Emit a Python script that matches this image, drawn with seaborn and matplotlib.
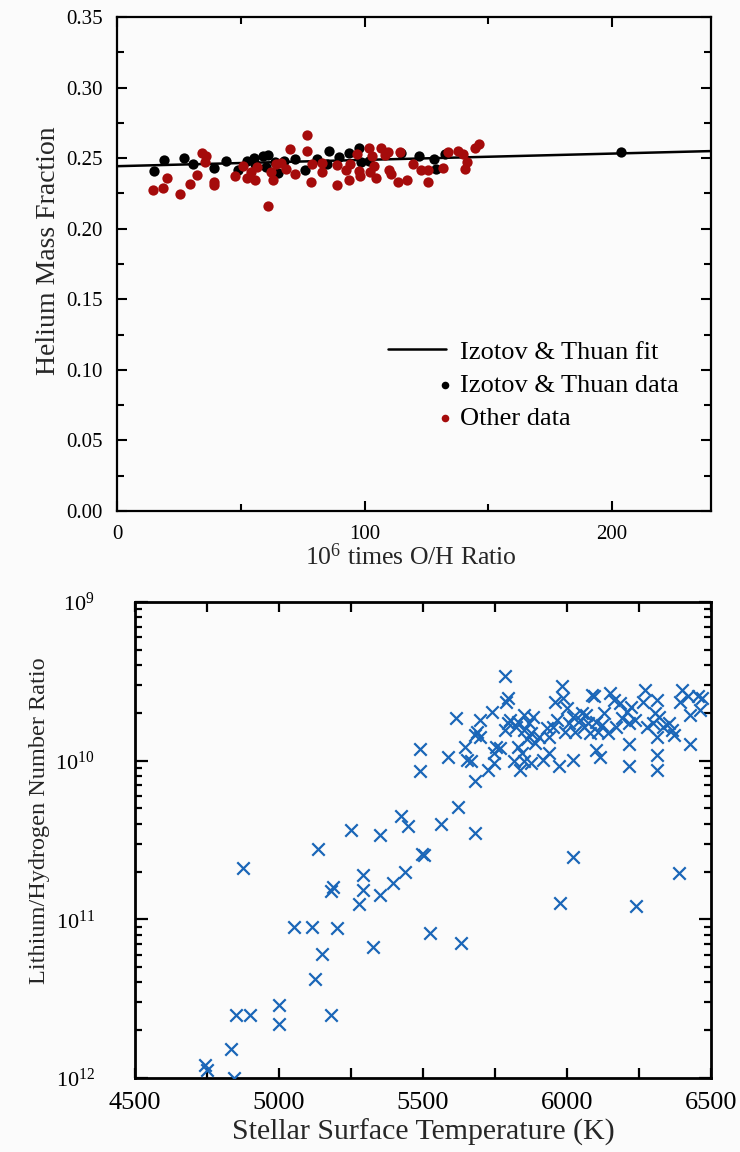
import numpy as np
import pandas as pd
import matplotlib
matplotlib.use("Agg")
import matplotlib.pyplot as plt
import seaborn as sns
from matplotlib.ticker import MultipleLocator, FormatStrFormatter, LogLocator, FixedLocator, NullFormatter
from matplotlib.legend_handler import HandlerPathCollection

# ---------------- data: helium (top panel) ----------------
it_oh = [15.0, 19.1, 26.9, 30.8, 39.1, 43.9, 48.8, 52.4, 55.3, 58.9, 61.0, 63.7, 65.0, 67.3,
         71.9, 75.9, 80.8, 85.7, 84.9, 89.7, 93.8, 97.8, 98.6, 101.9, 114.9, 121.9, 127.9,
         128.7, 132.7, 203.7, 55.6, 60.2]
it_y = [0.2408, 0.2488, 0.2502, 0.2460, 0.2432, 0.2479, 0.2413, 0.2479, 0.2502, 0.2512,
        0.2519, 0.2472, 0.2394, 0.2479, 0.2495, 0.2417, 0.2495, 0.2550, 0.2460, 0.2507,
        0.2535, 0.2573, 0.2472, 0.2483, 0.2535, 0.2512, 0.2495, 0.2425, 0.2526, 0.2542,
        0.2460, 0.2436]

other_oh = [14.5, 18.6, 20.2, 25.3, 29.3, 32.4, 34.2, 35.8, 35.5, 39.1, 39.1, 47.5, 51.1,
            52.7, 54.3, 55.9, 56.4, 61.0, 62.1, 62.9, 64.1, 66.2, 68.1, 69.9, 71.9, 76.7,
            76.7, 78.3, 78.7, 82.9, 82.9, 88.9, 88.9, 92.6, 93.8, 94.3, 97.0, 97.8, 98.2,
            101.9, 102.4, 103.0, 104.0, 104.6, 106.8, 108.4, 109.5, 110.0, 110.8, 113.7,
            114.4, 117.0, 119.7, 123.0, 125.5, 125.8, 131.6, 133.9, 137.6, 139.7, 140.8,
            141.3, 144.6, 146.2]
other_y = [0.2276, 0.2290, 0.2361, 0.2243, 0.2314, 0.2384, 0.2535, 0.2512, 0.2472, 0.2330,
           0.2307, 0.2377, 0.2441, 0.2361, 0.2401, 0.2342, 0.2436, 0.2158, 0.2401, 0.2342,
           0.2460, 0.2465, 0.2425, 0.2566, 0.2389, 0.2667, 0.2554, 0.2330, 0.2455, 0.2465,
           0.2401, 0.2448, 0.2307, 0.2417, 0.2342, 0.2455, 0.2526, 0.2408, 0.2370, 0.2573,
           0.2401, 0.2512, 0.2441, 0.2361, 0.2573, 0.2519, 0.2542, 0.2417, 0.2389, 0.2330,
           0.2542, 0.2347, 0.2460, 0.2413, 0.2330, 0.2413, 0.2432, 0.2542, 0.2550, 0.2526,
           0.2425, 0.2472, 0.2573, 0.2597]

fit_intercept = 0.2443
fit_slope = 0.0000446
oh_limits = [0, 240]
he_limits = [0.0, 0.35]

# ---------------- data: lithium (bottom panel) ----------------
temps = [5784, 5983, 5796, 5789, 5614, 5739, 5697, 5689, 5680, 5697, 5784, 5803, 5831, 5852,
         5867, 5881, 5852, 5874, 5930, 5937, 5959, 5987, 5966, 6001, 6022, 6044, 6058, 6065,
         6086, 6093, 6100, 6107, 6129, 6150, 6164, 6171, 6185, 6207, 6214, 6221, 6214, 6214,
         6270, 6263, 6278, 6306, 6313, 6320, 6313, 6313, 6313, 6334, 6363, 6370, 6391, 6398,
         6419, 6426, 6426, 6455, 6462, 6469,
         6022, 5973, 6115, 6100, 5838, 5845, 5852, 5874, 5916, 5937, 5831, 5817, 5725, 5746,
         5753, 5767, 5746, 5680, 5654, 5647, 5668, 5586, 5491, 5491, 5621, 5682, 5562, 5422,
         5448, 5349, 5250, 5137, 5498, 5505, 6022, 4875, 5293, 5439, 6388,
         6008, 6029, 6051, 6072, 6079, 6122, 6143, 5994, 5952, 5902, 5888, 6192, 6235, 6299,
         6355, 5824, 5860, 5796,
         5976, 6238, 5189, 5179, 5293, 5396, 5349, 5278, 5524, 5633, 5052, 5115, 5203, 5325,
         5148, 5125, 4999, 4999, 4850, 4900, 5182, 4835, 4744, 4750, 4843]
li_ratio = [3.4e-10, 2.97e-10, 2.5e-10, 2.35e-10, 1.85e-10, 2.04e-10, 1.8e-10, 1.52e-10,
            1.45e-10, 1.42e-10, 1.56e-10, 1.8e-10, 1.76e-10, 1.94e-10, 1.72e-10, 1.89e-10,
            1.56e-10, 1.49e-10, 1.6e-10, 1.42e-10, 2.35e-10, 2.47e-10, 1.8e-10, 2.14e-10,
            1.89e-10, 1.8e-10, 1.64e-10, 1.94e-10, 2.6e-10, 2.54e-10, 1.76e-10, 1.52e-10,
            1.99e-10, 2.66e-10, 2.41e-10, 1.64e-10, 2.3e-10, 2.04e-10, 1.72e-10, 2.19e-10,
            1.27e-10, 9.2e-11, 2.79e-10, 2.35e-10, 1.64e-10, 1.99e-10, 2.41e-10, 1.89e-10,
            1.42e-10, 1.09e-10, 8.7e-11, 1.64e-10, 1.56e-10, 1.45e-10, 2.35e-10, 2.79e-10,
            2.54e-10, 1.94e-10, 1.27e-10, 2.54e-10, 2.09e-10, 2.5e-10,
            1.01e-10, 9.2e-11, 1.06e-10, 1.16e-10, 8.7e-11, 1.11e-10, 9.9e-11, 9.6e-11,
            1.01e-10, 1.11e-10, 1.22e-10, 9.9e-11, 8.7e-11, 9.6e-11, 1.22e-10, 1.2e-10,
            1.11e-10, 7.4e-11, 1.01e-10, 1.22e-10, 9.9e-11, 1.06e-10, 1.18e-10, 8.65e-11,
            5.1e-11, 3.5e-11, 4.0e-11, 4.5e-11, 3.9e-11, 3.4e-11, 3.66e-11, 2.78e-11,
            2.58e-11, 2.55e-11, 2.48e-11, 2.1e-11, 1.9e-11, 2.0e-11, 1.95e-11,
            1.72e-10, 1.52e-10, 1.99e-10, 1.72e-10, 1.49e-10, 1.68e-10, 1.49e-10, 1.52e-10,
            1.64e-10, 1.42e-10, 1.3e-10, 1.85e-10, 1.8e-10, 1.72e-10, 1.72e-10, 1.64e-10,
            1.37e-10, 1.72e-10,
            1.27e-11, 1.21e-11, 1.6e-11, 1.5e-11, 1.53e-11, 1.7e-11, 1.43e-11, 1.25e-11,
            8.2e-12, 7.1e-12, 9.0e-12, 9.0e-12, 8.8e-12, 6.7e-12, 6.05e-12, 4.2e-12,
            2.9e-12, 2.2e-12, 2.5e-12, 2.5e-12, 2.5e-12, 1.52e-12, 1.21e-12, 1.12e-12, 1.0e-12]
temp_limits = [4500, 6500]
li_limits = [1e-12, 1e-9]
li_tick_values = [1e-12, 1e-11, 1e-10, 1e-9]
li_tick_labels = [r"$\mathregular{10^{12}}$", r"$\mathregular{10^{11}}$",
                  r"$\mathregular{10^{10}}$", r"$\mathregular{10^{9}}$"]

# ---------------- style ----------------
sns.set_theme(style="ticks")
BG = "#fbfbfb"
plt.rcParams["font.family"] = ["Liberation Serif", "DejaVu Serif"]
plt.rcParams["mathtext.fontset"] = "custom"
plt.rcParams["mathtext.rm"] = "Liberation Serif"
plt.rcParams["axes.edgecolor"] = "black"
plt.rcParams["text.color"] = "black"
plt.rcParams["xtick.color"] = "black"
plt.rcParams["ytick.color"] = "black"

fig = plt.figure(figsize=(7.4, 11.52), dpi=100, facecolor=BG)
ax1 = fig.add_axes([117 / 740, 1 - 511 / 1152, 594 / 740, 494 / 1152])
ax2 = fig.add_axes([135 / 740, 1 - 1078 / 1152, 576 / 740, 476 / 1152])
for ax in (ax1, ax2):
    ax.set_facecolor(BG)

RED = "#a50b0b"
BLUE = "#1a66b8"

# ---------------- top panel ----------------
fit_df = pd.DataFrame({"oh": oh_limits})
fit_df["y"] = fit_intercept + fit_slope * fit_df["oh"]
sns.lineplot(data=fit_df, x="oh", y="y", ax=ax1, color="black", linewidth=1.8,
             legend=False, zorder=2)
h_line = ax1.lines[-1]
it_df = pd.DataFrame({"oh": it_oh, "y": it_y})
other_df = pd.DataFrame({"oh": other_oh, "y": other_y})
sns.scatterplot(data=it_df, x="oh", y="y", ax=ax1, color="black", s=55, linewidth=0,
                legend=False, zorder=3)
h_it = ax1.collections[-1]
sns.scatterplot(data=other_df, x="oh", y="y", ax=ax1, color=RED, s=55, linewidth=0,
                legend=False, zorder=4)
h_other = ax1.collections[-1]

ax1.set_xlim(oh_limits)
ax1.set_ylim(he_limits)
ax1.xaxis.set_major_locator(MultipleLocator(100))
ax1.xaxis.set_minor_locator(MultipleLocator(50))
ax1.yaxis.set_major_locator(MultipleLocator(0.05))
ax1.yaxis.set_minor_locator(MultipleLocator(0.025))
ax1.yaxis.set_major_formatter(FormatStrFormatter("%.2f"))
ax1.tick_params(which="both", direction="in", top=True, right=True, width=1.5,
                labelsize=15, pad=10)
ax1.tick_params(which="major", length=7)
ax1.tick_params(which="minor", length=5)
ax1.set_xlabel(r"$\mathregular{10^6}$ times O/H Ratio", fontsize=18.5)
ax1.xaxis.set_label_coords(0.495, -0.066)
ax1.set_ylabel("Helium Mass Fraction", fontsize=20)
ax1.yaxis.set_label_coords(-0.095, 0.526)
for sp in ax1.spines.values():
    sp.set_linewidth(1.6)


class RightMarkerHandler(HandlerPathCollection):
    def get_xdata(self, legend, xdescent, ydescent, width, height, fontsize):
        x = np.array([-xdescent + width - 0.05 * fontsize])
        return x, x


ax1.legend([h_line, h_it, h_other],
           ["Izotov & Thuan fit", "Izotov & Thuan data", "Other data"],
           handler_map={h_it: RightMarkerHandler(sizes=[30]),
                        h_other: RightMarkerHandler(sizes=[30])},
           loc="upper left", bbox_to_anchor=(0.456, 0.346), frameon=False,
           fontsize=19, handlelength=2.2, handletextpad=0.55, labelspacing=0.37,
           borderpad=0, borderaxespad=0)

# ---------------- bottom panel ----------------
li_df = pd.DataFrame({"T": temps, "Li": li_ratio})
sns.scatterplot(data=li_df, x="T", y="Li", ax=ax2, marker="x", color=BLUE, s=80,
                linewidth=1.6, legend=False, zorder=3)
ax2.set_yscale("log")
ax2.set_xlim(temp_limits)
ax2.set_ylim(li_limits)
ax2.xaxis.set_major_locator(MultipleLocator(500))
ax2.xaxis.set_minor_locator(MultipleLocator(250))
ax2.yaxis.set_major_locator(FixedLocator(li_tick_values))
ax2.set_yticklabels(li_tick_labels)
ax2.yaxis.set_minor_locator(LogLocator(base=10, subs=np.arange(2, 10)))
ax2.yaxis.set_minor_formatter(NullFormatter())
ax2.tick_params(which="both", direction="in", top=True, right=True, width=1.6)
ax2.tick_params(axis="x", which="major", length=7, labelsize=19, pad=10)
ax2.tick_params(axis="x", which="minor", length=7)
ax2.tick_params(axis="y", which="major", length=9, labelsize=16, pad=29)
ax2.tick_params(axis="y", which="minor", length=5)
ax2.set_xlabel("Stellar Surface Temperature (K)", fontsize=21.5)
ax2.xaxis.set_label_coords(0.5, -0.086)
ax2.set_ylabel("Lithium/Hydrogen Number Ratio", fontsize=17.5)
ax2.yaxis.set_label_coords(-0.148, 0.54)
for sp in ax2.spines.values():
    sp.set_linewidth(2.0)

fig.savefig("out.png", dpi=100, facecolor=BG)
